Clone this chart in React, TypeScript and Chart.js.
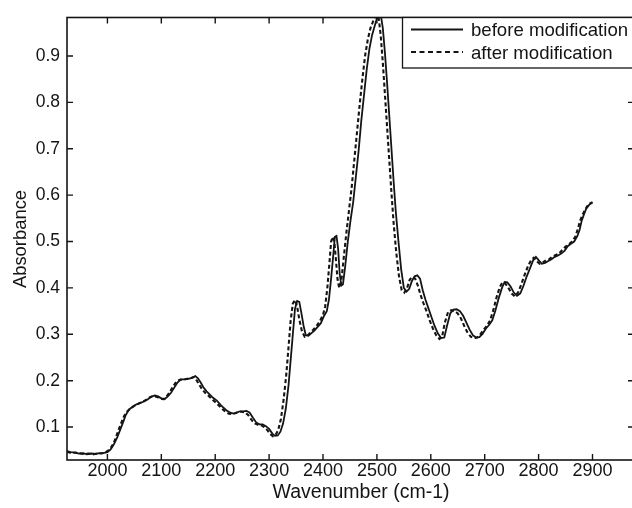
import React, { useEffect, useRef } from "react";
import { Chart, registerables } from "chart.js";

Chart.register(...registerables);

const beforeWave = [
  1925, 1932, 1940, 1947, 1955, 1962, 1970, 1978, 1985, 1992, 2000, 2006, 2012, 2018, 2024, 2029, 2034, 2040,
  2047, 2054, 2061, 2068, 2075, 2082, 2088, 2094, 2100, 2106, 2112, 2118, 2124, 2130, 2136, 2142, 2150, 2157,
  2163, 2168, 2173, 2178, 2184, 2190, 2196, 2203, 2210, 2216, 2222, 2228, 2234, 2240, 2246, 2252, 2258, 2264,
  2270, 2276, 2282, 2288, 2294, 2300, 2306, 2311, 2316, 2321, 2326, 2331, 2336, 2340, 2344, 2348, 2352, 2356,
  2360, 2364, 2368, 2373, 2378, 2384, 2390, 2396, 2402, 2407, 2411, 2415, 2419, 2422, 2425, 2428, 2431, 2434,
  2437, 2441, 2446, 2451, 2456, 2461, 2466, 2471, 2476, 2481, 2486, 2491, 2496, 2501, 2507, 2511, 2515, 2519,
  2523, 2527, 2531, 2535, 2540, 2545, 2550, 2555, 2560, 2565, 2570, 2575, 2580, 2585, 2590, 2595, 2601, 2607,
  2613, 2619, 2625, 2630, 2636, 2642, 2648, 2654, 2660, 2666, 2672, 2678, 2684, 2690, 2696, 2702, 2708, 2714,
  2720, 2726, 2732, 2737, 2742, 2748, 2754, 2760, 2766, 2772, 2778, 2784, 2790, 2795, 2800, 2806, 2812, 2818,
  2824, 2830, 2836, 2842, 2848, 2854, 2860, 2866, 2872, 2876, 2880, 2884, 2888, 2893, 2898, 2900,
];
const beforeAbs = [
  0.048, 0.046, 0.045, 0.043, 0.044, 0.041, 0.043, 0.042, 0.044, 0.044, 0.046, 0.052, 0.063, 0.077, 0.095, 0.11, 0.126, 0.138,
  0.144, 0.149, 0.152, 0.155, 0.16, 0.166, 0.168, 0.166, 0.162, 0.16, 0.166, 0.174, 0.185, 0.196, 0.203, 0.203, 0.204, 0.206,
  0.21, 0.205, 0.196, 0.186, 0.177, 0.17, 0.163, 0.157, 0.148, 0.141, 0.135, 0.131, 0.129, 0.131, 0.134, 0.134, 0.135, 0.131,
  0.12, 0.11, 0.106, 0.106, 0.102, 0.096, 0.086, 0.081, 0.082, 0.09, 0.108, 0.14, 0.19, 0.245, 0.3, 0.355, 0.372, 0.37,
  0.345, 0.318, 0.298, 0.297, 0.302, 0.308, 0.316, 0.324, 0.34, 0.35, 0.375, 0.42, 0.47, 0.51, 0.512, 0.485, 0.43, 0.405,
  0.408, 0.445, 0.5, 0.545, 0.585, 0.64, 0.695, 0.76, 0.815, 0.87, 0.915, 0.945, 0.965, 0.985, 0.99, 0.96, 0.905, 0.84,
  0.77, 0.7, 0.63, 0.565, 0.5, 0.44, 0.4, 0.392, 0.398, 0.415, 0.425, 0.427, 0.42, 0.395, 0.375, 0.358, 0.338, 0.318,
  0.302, 0.292, 0.293, 0.318, 0.345, 0.353, 0.354, 0.35, 0.34, 0.325, 0.31, 0.298, 0.293, 0.294, 0.301, 0.312, 0.32, 0.33,
  0.352, 0.378, 0.4, 0.413, 0.412, 0.403, 0.39, 0.383, 0.388, 0.405, 0.425, 0.442, 0.46, 0.467, 0.46, 0.452, 0.454, 0.458,
  0.462, 0.467, 0.47, 0.474, 0.48, 0.49, 0.495, 0.5, 0.512, 0.525, 0.545, 0.558, 0.57, 0.578, 0.584, 0.585,
];

const afterWave = [
  1925, 1933, 1941, 1949, 1957, 1965, 1973, 1981, 1989, 1996, 2002, 2008, 2014, 2020, 2026, 2031, 2037, 2043,
  2050, 2057, 2064, 2071, 2078, 2085, 2092, 2098, 2104, 2110, 2116, 2122, 2128, 2134, 2141, 2148, 2155, 2161,
  2166, 2171, 2176, 2182, 2188, 2194, 2200, 2207, 2213, 2219, 2225, 2231, 2237, 2243, 2249, 2255, 2261, 2267,
  2273, 2279, 2285, 2291, 2297, 2302, 2307, 2312, 2317, 2322, 2327, 2332, 2336, 2340, 2344, 2348, 2352, 2356,
  2361, 2366, 2371, 2376, 2382, 2388, 2394, 2400, 2404, 2408, 2412, 2415, 2418, 2421, 2424, 2427, 2430, 2434,
  2438, 2443, 2448, 2453, 2458, 2463, 2468, 2473, 2478, 2483, 2488, 2493, 2498, 2503, 2507, 2511, 2515, 2519,
  2523, 2527, 2531, 2536, 2541, 2546, 2551, 2556, 2561, 2566, 2571, 2576, 2581, 2586, 2592, 2598, 2604, 2610,
  2616, 2621, 2626, 2632, 2638, 2644, 2650, 2656, 2662, 2668, 2674, 2680, 2686, 2692, 2698, 2704, 2710, 2716,
  2722, 2728, 2733, 2738, 2744, 2750, 2756, 2762, 2768, 2774, 2780, 2786, 2791, 2796, 2802, 2808, 2814, 2820,
  2826, 2832, 2838, 2844, 2850, 2856, 2862, 2868, 2873, 2877, 2881, 2885, 2890, 2895, 2900,
];
const afterAbs = [
  0.047, 0.044, 0.045, 0.043, 0.042, 0.043, 0.041, 0.043, 0.043, 0.045, 0.05, 0.058, 0.072, 0.092, 0.11, 0.124, 0.134, 0.14,
  0.146, 0.15, 0.154, 0.158, 0.164, 0.167, 0.165, 0.161, 0.16, 0.166, 0.176, 0.188, 0.198, 0.202, 0.202, 0.204, 0.206, 0.208,
  0.2, 0.19, 0.181, 0.173, 0.167, 0.16, 0.154, 0.146, 0.139, 0.133, 0.129, 0.128, 0.13, 0.133, 0.133, 0.132, 0.126, 0.116,
  0.108, 0.105, 0.104, 0.1, 0.093, 0.085, 0.08, 0.083, 0.094, 0.118, 0.16, 0.215, 0.272, 0.33, 0.366, 0.374, 0.36, 0.332,
  0.306, 0.295, 0.297, 0.303, 0.31, 0.318, 0.328, 0.342, 0.36, 0.4, 0.455, 0.5, 0.51, 0.5, 0.46, 0.418, 0.4, 0.415,
  0.46, 0.515, 0.565, 0.615, 0.675, 0.735, 0.795, 0.85, 0.9, 0.935, 0.96, 0.975, 0.988, 0.985, 0.945, 0.885, 0.815, 0.745,
  0.675, 0.605, 0.54, 0.475, 0.425, 0.395, 0.39, 0.4, 0.418, 0.424, 0.42, 0.405, 0.385, 0.368, 0.35, 0.33, 0.312, 0.298,
  0.29, 0.295, 0.325, 0.348, 0.352, 0.35, 0.345, 0.334, 0.318, 0.304, 0.295, 0.292, 0.293, 0.3, 0.31, 0.318, 0.33, 0.352,
  0.38, 0.402, 0.412, 0.41, 0.4, 0.388, 0.382, 0.39, 0.408, 0.428, 0.446, 0.46, 0.465, 0.458, 0.452, 0.455, 0.46, 0.462,
  0.468, 0.471, 0.474, 0.482, 0.489, 0.494, 0.5, 0.51, 0.528, 0.545, 0.556, 0.566, 0.576, 0.582, 0.583,
];

const xTicks = [2000, 2100, 2200, 2300, 2400, 2500, 2600, 2700, 2800, 2900];
const yTicks = [0.1, 0.2, 0.3, 0.4, 0.5, 0.6, 0.7, 0.8, 0.9];
const seriesLabels = ["before modification", "after modification"];
const xTitle = "Wavenumber (cm-1)";
const yTitle = "Absorbance";

const FONT = '"Liberation Sans", Arial, Helvetica, sans-serif';
const INK = "#141414";
const DASH = [4, 2.6];

export default function App() {
  const ref = useRef<HTMLCanvasElement>(null);

  useEffect(() => {
    document.body.style.margin = "0";
    const framePlugin = {
      id: "matlabFrame",
      afterDraw(chart: any) {
        const { ctx, chartArea } = chart;
        const { left, right, top, bottom } = chartArea;
        const xs = chart.scales.x;
        const ys = chart.scales.y;
        ctx.save();
        ctx.strokeStyle = INK;
        ctx.lineWidth = 1.6;
        ctx.setLineDash([]);
        ctx.strokeRect(left, top, right - left, bottom - top);
        const tl = 6;
        ctx.lineWidth = 1.4;
        ctx.beginPath();
        xTicks.forEach((v) => {
          const px = xs.getPixelForValue(v);
          ctx.moveTo(px, bottom);
          ctx.lineTo(px, bottom - tl);
          ctx.moveTo(px, top);
          ctx.lineTo(px, top + tl);
        });
        yTicks.forEach((v) => {
          const py = ys.getPixelForValue(v);
          ctx.moveTo(left, py);
          ctx.lineTo(left + tl, py);
          ctx.moveTo(right, py);
          ctx.lineTo(right - tl, py);
        });
        ctx.stroke();

        // legend
        const lx = 402.5;
        const lt = top;
        const lb = 68;
        ctx.fillStyle = "#fff";
        ctx.fillRect(lx, lt, right - lx, lb - lt);
        ctx.lineWidth = 1.3;
        ctx.strokeRect(lx, lt, right - lx + 10, lb - lt);
        ctx.lineWidth = 1.8;
        ctx.beginPath();
        ctx.moveTo(411, 29.5);
        ctx.lineTo(463, 29.5);
        ctx.stroke();
        ctx.lineWidth = 2;
        ctx.setLineDash([5, 3.5]);
        ctx.beginPath();
        ctx.moveTo(411, 52);
        ctx.lineTo(463, 52);
        ctx.stroke();
        ctx.setLineDash([]);
        ctx.fillStyle = INK;
        ctx.font = `18.6px ${FONT}`;
        ctx.textAlign = "left";
        ctx.textBaseline = "alphabetic";
        ctx.fillText(seriesLabels[0], 471, 36);
        ctx.fillText(seriesLabels[1], 471, 59);

        // axis titles
        ctx.font = `19.5px ${FONT}`;
        ctx.textAlign = "center";
        ctx.fillText(xTitle, 361, 498);
        ctx.font = `18.4px ${FONT}`;
        ctx.translate(26, 239);
        ctx.rotate(-Math.PI / 2);
        ctx.fillText(yTitle, 0, 0);
        ctx.restore();
      },
    };

    const chart = new Chart(ref.current!, {
      type: "line",
      data: {
        datasets: [
          {
            label: seriesLabels[0],
            data: beforeWave.map((x, i) => ({ x, y: beforeAbs[i] })),
            borderColor: INK,
            borderWidth: 1.8,
            pointRadius: 0,
            fill: false,
            tension: 0,
          },
          {
            label: seriesLabels[1],
            data: afterWave.map((x, i) => ({ x, y: afterAbs[i] })),
            borderColor: INK,
            borderWidth: 2.1,
            borderDash: DASH,
            pointRadius: 0,
            fill: false,
            tension: 0,
          },
        ],
      },
      options: {
        responsive: false,
        animation: false,
        events: [],
        layout: { padding: { left: 0, right: 2, top: 14, bottom: 0 } },
        plugins: { legend: { display: false }, tooltip: { enabled: false }, title: { display: false } },
        scales: {
          x: {
            type: "linear",
            min: 1925,
            max: 2977,
            afterFit: (s: any) => {
              s.height = 48;
            },
            afterBuildTicks: (s: any) => {
              s.ticks = xTicks.map((v) => ({ value: v }));
            },
            grid: { display: false, drawTicks: false },
            border: { display: false },
            ticks: {
              autoSkip: false,
              maxRotation: 0,
              padding: 0,
              color: INK,
              font: { family: FONT, size: 18 },
              callback: (v: any) => String(v),
            },
          },
          y: {
            type: "linear",
            min: 0.029,
            max: 0.983,
            afterFit: (s: any) => {
              s.width = 67;
            },
            afterBuildTicks: (s: any) => {
              s.ticks = yTicks.map((v) => ({ value: v }));
            },
            grid: { display: false, drawTicks: false },
            border: { display: false },
            ticks: {
              autoSkip: false,
              padding: 7,
              color: INK,
              font: { family: FONT, size: 17.5 },
              callback: (v: any) => Number(v).toFixed(1),
            },
          },
        },
      },
      plugins: [framePlugin],
    });
    return () => chart.destroy();
  }, []);

  return (
    <div
      style={{
        position: "fixed",
        left: 0,
        top: 0,
        width: 632,
        height: 508,
        overflow: "hidden",
        background: "#fff",
      }}
    >
      <canvas ref={ref} width={636} height={508} style={{ display: "block", width: 636, height: 508 }} />
    </div>
  );
}
